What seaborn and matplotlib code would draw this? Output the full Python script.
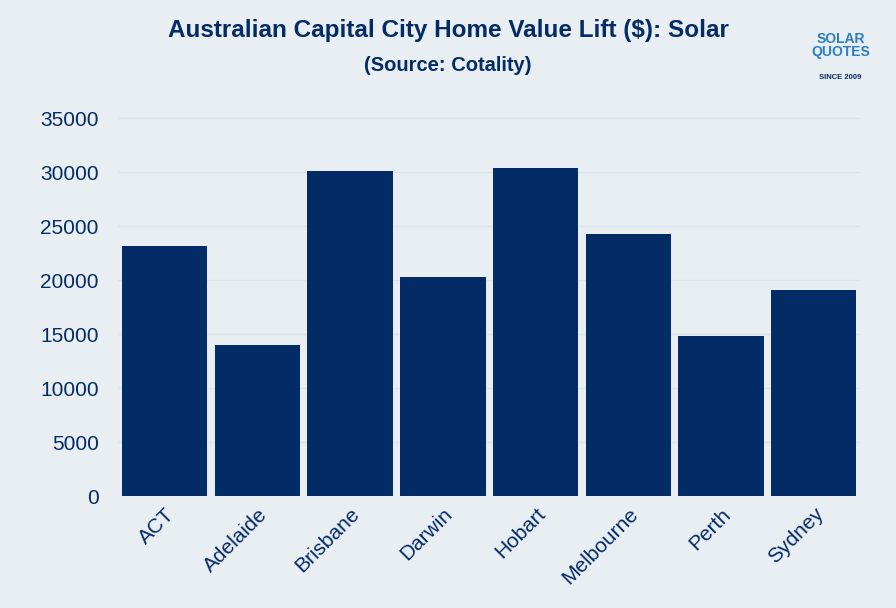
import matplotlib
matplotlib.use("Agg")
import matplotlib.pyplot as plt
import seaborn as sns
import pandas as pd

cities = ["ACT", "Adelaide", "Brisbane", "Darwin", "Hobart", "Melbourne", "Perth", "Sydney"]
values = [23200, 14000, 30100, 20250, 30400, 24300, 14800, 19100]
yticks = [0, 5000, 10000, 15000, 20000, 25000, 30000, 35000]

bg = "#e9eef3"
navy = "#032b66"
df = pd.DataFrame({"city": cities, "value": values})

fig = plt.figure(figsize=(8.96, 6.08), dpi=100, facecolor=bg)
ax = fig.add_axes([0.132, 0.184, 0.828, 0.625])
ax.set_facecolor(bg)
sns.barplot(data=df, x="city", y="value", color=navy, width=0.92, ax=ax, saturation=1)
ax.set_ylim(0, 35190)
ax.set_yticks(yticks)
ax.set_yticklabels([str(t) for t in yticks], fontsize=15, color=navy, family="Liberation Sans")
ax.set_xticklabels(cities, rotation=45, ha="right", rotation_mode="anchor", fontsize=15, color=navy, family="Liberation Sans")
ax.set_xlabel(""); ax.set_ylabel("")
ax.grid(axis="y", color="#dde4ec", linewidth=1)
ax.set_axisbelow(True)
for s in ax.spines.values():
    s.set_visible(False)
ax.tick_params(axis="y", length=0, pad=14)
ax.tick_params(axis="x", length=0, pad=6)
ax.set_xlim(-0.5, 7.5)

fig.text(0.5, 0.950, "Australian Capital City Home Value Lift ($): Solar", ha="center", va="center",
         fontsize=17.5, fontweight="bold", color=navy, family="Liberation Sans")
fig.text(0.5, 0.893, "(Source: Cotality)", ha="center", va="center",
         fontsize=14.5, fontweight="bold", color=navy, family="Liberation Sans")
fig.text(0.938, 0.925, "SOLAR\nQUOTES", ha="center", va="center", fontsize=10, fontweight="bold",
         color="#2a7fc1", family="Liberation Sans", linespacing=0.9)
fig.text(0.938, 0.873, "SINCE 2009", ha="center", va="center", fontsize=5.5, fontweight="bold",
         color=navy, family="Liberation Sans")
fig.savefig("out.png", dpi=100, facecolor=bg)
